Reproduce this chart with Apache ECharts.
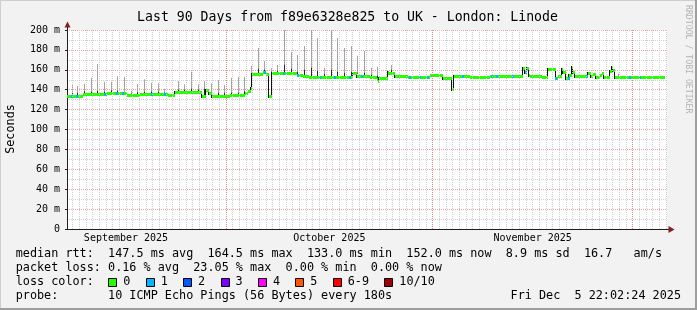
<!DOCTYPE html>
<html>
<head>
<meta charset="utf-8">
<script src="https://cdn.jsdelivr.net/npm/echarts@6.0.0/dist/echarts.min.js"></script>
<style>
html,body{margin:0;padding:0;background:#f2f2f2;overflow:hidden;}
#chart{width:697px;height:310px;}
</style>
</head>
<body>
<div id="chart"></div>
<script>
// ---------------- data (x = days since 1 Sep 2025 00:00, y = milliseconds) ----------------
const titleText = 'Last 90 Days from f89e6328e825 to UK - London: Linode';
const yAxisName = 'Seconds';
const xMinDay = 6.15, xMaxDay = 96.15;
const monthStartDays = [30, 61, 91];
const monthLabelDays = [15, 45.5, 76];
const monthLabels = ['September 2025', 'October 2025', 'November 2025'];
const yTickValues = [0, 20, 40, 60, 80, 100, 120, 140, 160, 180, 200];
const yTickLabels = ['0', '20 m', '40 m', '60 m', '80 m', '100 m', '120 m', '140 m', '160 m', '180 m', '200 m'];

// median rtt (step line)
const medianT = [6.15, 8.55, 10.35, 12.15, 12.90, 15.15, 17.10, 20.10, 21.30, 22.35, 26.40, 26.96, 27.45, 27.86, 30.60, 32.85, 33.30, 33.75, 33.95, 35.55, 36.00, 36.45, 36.86, 39.60, 40.61, 41.60, 42.50, 49.10, 49.70, 51.60, 52.61, 52.80, 52.95, 54.26, 54.35, 55.35, 57.35, 57.86, 60.60, 62.60, 63.90, 64.25, 66.60, 69.60, 74.51, 74.85, 75.20, 75.50, 75.60, 77.36, 78.35, 79.43, 79.85, 80.36, 80.60, 81.00, 81.50, 81.86, 82.10, 82.35, 84.35, 84.75, 85.10, 85.50, 86.10, 86.45, 86.75, 87.60, 87.86, 88.10, 88.35, 95.85];
const medianMs = [134.0, 135.7, 135.3, 137.0, 136.3, 134.7, 135.7, 136.0, 134.7, 138.0, 133.7, 139.7, 136.3, 134.0, 134.7, 136.3, 138.7, 141.4, 155.8, 158.0, 155.8, 134.0, 156.4, 157.1, 154.8, 154.1, 152.6, 156.4, 153.8, 152.4, 150.8, 148.7, 152.1, 158.1, 156.4, 154.1, 152.4, 153.1, 154.4, 152.1, 140.4, 154.1, 152.4, 153.8, 161.5, 158.1, 161.5, 154.8, 154.1, 152.8, 160.5, 152.1, 154.1, 160.5, 158.1, 152.1, 154.8, 163.1, 158.1, 153.8, 157.1, 154.1, 155.8, 152.4, 154.8, 156.8, 152.4, 158.8, 163.1, 159.8, 153.1, 153.1];

// smoke (ping spread) spikes
const smokeT   = [6.90, 7.65, 8.70, 9.75, 10.65, 11.70, 12.75, 13.65, 14.70, 15.75, 16.65, 17.70, 18.75, 19.80, 20.70, 22.80, 23.70, 24.75, 25.80, 26.70, 27.75, 28.80, 29.70, 30.75, 31.80, 32.70, 33.75, 34.80, 35.70, 36.75, 37.65, 38.70, 39.75, 40.65, 41.70, 42.75, 43.65, 44.70, 45.75, 46.65, 47.70, 48.75, 49.65, 50.70, 51.75, 52.65, 54.75, 69.90, 88.80];
const smokeMid = [137.0, 137.0, 138.5, 138.0, 139.0, 138.0, 139.5, 139.0, 137.0, 136.0, 137.5, 138.0, 138.0, 138.0, 137.0, 140.0, 140.0, 141.0, 140.0, 141.0, 137.0, 137.0, 137.0, 137.0, 137.0, 138.5, 156.0, 161.0, 160.0, 158.0, 159.0, 165.0, 161.0, 158.0, 160.0, 162.0, 159.0, 156.0, 160.0, 158.0, 157.0, 158.0, 157.0, 157.0, 155.0, 154.0, 160.0, 155.0, 154.0];
const smokeHi  = [145.4, 143.7, 146.0, 152.0, 165.8, 148.0, 148.0, 153.6, 153.0, 139.0, 145.7, 150.4, 147.0, 146.4, 141.0, 148.7, 145.4, 158.0, 145.4, 148.7, 146.4, 149.7, 144.7, 152.0, 153.0, 153.0, 164.0, 182.0, 168.8, 161.5, 164.8, 200.0, 177.6, 174.9, 184.0, 200.0, 192.0, 162.0, 200.0, 192.0, 182.0, 184.0, 174.0, 179.0, 162.0, 163.0, 164.8, 155.5, 156.0];

// places where the median is drawn in the "1 lost" colour
const lossOneT = [6.90, 7.65, 11.85, 13.65, 14.55, 18.90, 20.85, 35.85, 38.70, 40.80, 44.10, 46.35, 48.60, 50.40, 57.60, 59.10, 60.30, 65.55, 69.90, 70.65, 73.05, 75.00, 79.50, 81.45, 84.15, 90.60, 92.10];

// legend texts
const statLines = [
  'median rtt:  147.5 ms avg  164.5 ms max  133.0 ms min  152.0 ms now  8.9 ms sd  16.7   am/s',
  'packet loss: 0.16 % avg  23.05 % max  0.00 % min  0.00 % now'
];
const lossTitle = 'loss color:';
const lossLabels = ['0', '1', '2', '3', '4', '5', '6-9', '10/10'];
const lossColors = ['#26ff00', '#00b8ff', '#0059ff', '#7e00ff', '#ff00ff', '#ff5500', '#ff0000', '#a10000'];
const probeText = 'probe:       10 ICMP Echo Pings (56 Bytes) every 180s';
const dateText = 'Fri Dec  5 22:02:24 2025';
const watermark = 'RRDTOOL / TOBI OETIKER';

// ---------------- build ----------------
const MONO = '"DejaVu Sans Mono", "Liberation Mono", monospace';
function medianAt(t) {
  let v = medianMs[0];
  for (let i = 0; i < medianT.length; i++) { if (medianT[i] <= t) v = medianMs[i]; }
  return v;
}
// each median step: [start, value, end, next value]
const medianSteps = medianT.slice(0, -1).map((t, i) => [t, medianMs[i], medianT[i + 1], medianMs[i + 1]]);
const smokeData = smokeT.map((t, i) => [t, medianAt(t), smokeMid[i], smokeHi[i]]);
const lossOneData = lossOneT.map(t => [t, medianAt(t)]);

const minorDays = [];
for (let d = Math.ceil(xMinDay); d <= Math.floor(xMaxDay); d++) minorDays.push({ xAxis: d });

const chart = echarts.init(document.getElementById('chart'), null, { renderer: 'canvas' });

const graphics = [];
// frame
graphics.push({ type: 'line', shape: { x1: 0, y1: 0.5, x2: 697, y2: 0.5 }, style: { stroke: '#cecece', lineWidth: 1 }, z: 50 });
graphics.push({ type: 'line', shape: { x1: 0.5, y1: 0, x2: 0.5, y2: 310 }, style: { stroke: '#cecece', lineWidth: 1 }, z: 50 });
graphics.push({ type: 'line', shape: { x1: 0, y1: 309, x2: 697, y2: 309 }, style: { stroke: '#9e9e9e', lineWidth: 2 }, z: 50 });
graphics.push({ type: 'line', shape: { x1: 696, y1: 0, x2: 696, y2: 310 }, style: { stroke: '#9e9e9e', lineWidth: 2 }, z: 50 });
// axis arrows
graphics.push({ type: 'line', shape: { x1: 67.5, y1: 30, x2: 67.5, y2: 26 }, style: { stroke: '#1f1f1f', lineWidth: 1 }, z: 60 });
graphics.push({ type: 'polygon', shape: { points: [[64.5, 27.5], [70.5, 27.5], [67.5, 21.5]] }, style: { fill: '#801f1f' }, z: 60 });
graphics.push({ type: 'line', shape: { x1: 667, y1: 229.5, x2: 669, y2: 229.5 }, style: { stroke: '#1f1f1f', lineWidth: 1 }, z: 60 });
graphics.push({ type: 'polygon', shape: { points: [[668.5, 226], [668.5, 233], [674.5, 229.5]] }, style: { fill: '#801f1f' }, z: 60 });
// title
graphics.push({ type: 'text', x: 347.5, y: 18, style: { text: titleText, align: 'center', verticalAlign: 'middle', font: '13.2px ' + MONO, fill: '#000' }, z: 60 });
// y axis name
graphics.push({ type: 'text', x: 10.5, y: 129, rotation: Math.PI / 2, style: { text: yAxisName, align: 'center', verticalAlign: 'middle', font: '11.8px ' + MONO, fill: '#000' }, z: 60 });
// watermark
graphics.push({ type: 'text', x: 688.5, y: 5, rotation: -Math.PI / 2, style: { text: watermark, align: 'left', verticalAlign: 'middle', font: '8.2px ' + MONO, fill: '#b4b4b4' }, z: 60 });
// stats lines
const rowY = [254.3, 268.3, 282.3, 296.3];
statLines.forEach((s, i) => {
  graphics.push({ type: 'text', x: 15.7, y: rowY[i], style: { text: s, align: 'left', verticalAlign: 'middle', font: '11.8px ' + MONO, fill: '#000' }, z: 60 });
});
graphics.push({ type: 'text', x: 15.7, y: rowY[2], style: { text: lossTitle, align: 'left', verticalAlign: 'middle', font: '11.8px ' + MONO, fill: '#000' }, z: 60 });
const CH = 7.1;
let bx = 108.3;
lossLabels.forEach((lab, i) => {
  graphics.push({ type: 'rect', shape: { x: Math.round(bx) + 0.5, y: 278.5, width: 8, height: 8 }, style: { fill: lossColors[i], stroke: '#000', lineWidth: 1 }, z: 60 });
  const lx = bx + 15;
  graphics.push({ type: 'text', x: lx, y: rowY[2], style: { text: lab, align: 'left', verticalAlign: 'middle', font: '11.8px ' + MONO, fill: '#000' }, z: 60 });
  bx = lx + lab.length * CH + 15.3;
});
graphics.push({ type: 'text', x: 15.7, y: rowY[3], style: { text: probeText, align: 'left', verticalAlign: 'middle', font: '11.8px ' + MONO, fill: '#000' }, z: 60 });
graphics.push({ type: 'text', x: 681, y: rowY[3], style: { text: dateText, align: 'right', verticalAlign: 'middle', font: '11.8px ' + MONO, fill: '#000' }, z: 60 });

const option = {
  animation: false,
  backgroundColor: '#f2f2f2',
  grid: { left: 67, top: 30, width: 600, height: 199, show: true, backgroundColor: '#ffffff', borderWidth: 0, containLabel: false, outerBoundsMode: 'none' },
  xAxis: {
    type: 'value', min: xMinDay, max: xMaxDay,
    axisLine: { show: true, onZero: false, lineStyle: { color: '#1f1f1f', width: 1 } },
    axisTick: { show: false },
    splitLine: { show: false },
    axisLabel: {
      show: true, customValues: monthLabelDays, margin: 4,
      formatter: v => { const i = monthLabelDays.indexOf(v); return i >= 0 ? monthLabels[i] : ''; },
      fontFamily: MONO, fontSize: 10, color: '#000'
    }
  },
  yAxis: {
    type: 'value', min: 0, max: 200, interval: 20,
    axisLine: { show: true, lineStyle: { color: '#1f1f1f', width: 1 } },
    axisTick: { show: true, length: 2, lineStyle: { color: '#1f1f1f' } },
    minorTick: { show: false, splitNumber: 2 },
    splitLine: { show: true, lineStyle: { color: 'rgba(222,79,79,0.55)', type: [1, 1], width: 1 } },
    minorSplitLine: { show: true, lineStyle: { color: '#cfcfcf', type: [1, 1], width: 1 } },
    axisLabel: {
      margin: 7, fontFamily: MONO, fontSize: 10, color: '#000',
      formatter: v => { const i = yTickValues.indexOf(v); return i >= 0 ? yTickLabels[i] : ''; }
    }
  },
  series: [
    {
      type: 'line', name: 'grid', data: [], silent: true, z: 1,
      markLine: {
        silent: true, symbol: ['none', 'none'], label: { show: false }, animation: false,
        lineStyle: { color: '#cfcfcf', type: [1, 1], width: 1 },
        data: minorDays
      }
    },
    {
      type: 'line', name: 'mgrid', data: [], silent: true, z: 1,
      markLine: {
        silent: true, symbol: ['none', 'none'], label: { show: false }, animation: false,
        lineStyle: { color: 'rgba(222,79,79,0.55)', type: [1, 1], width: 1 },
        data: monthStartDays.map(d => ({ xAxis: d }))
      }
    },
    {
      type: 'custom', name: 'smoke', data: smokeData, z: 2, clip: true, silent: true,
      encode: { x: 0, y: 3 },
      renderItem: (params, api) => {
        const t = api.value(0);
        const pLo = api.coord([t, api.value(1)]);
        const pMid = api.coord([t, api.value(2)]);
        const pHi = api.coord([t, api.value(3)]);
        const x = Math.floor(pLo[0]);
        return {
          type: 'group', children: [
            { type: 'rect', shape: { x: x, y: pHi[1], width: 1, height: pLo[1] - pHi[1] }, style: { fill: '#a4a4a4' } },
            { type: 'rect', shape: { x: x, y: pMid[1], width: 1, height: pLo[1] - pMid[1] }, style: { fill: '#2a2a2a' } }
          ]
        };
      }
    },
    {
      type: 'custom', name: 'median', data: medianSteps, z: 3, silent: true, clip: true,
      encode: { x: [0, 2], y: [1, 3] },
      renderItem: (params, api) => {
        const p0 = api.coord([api.value(0), api.value(1)]);
        const p1 = api.coord([api.value(2), api.value(1)]);
        const p2 = api.coord([api.value(2), api.value(3)]);
        const xa = Math.round(p0[0]), xb = Math.round(p1[0]);
        const ya = Math.round(p1[1]), yb = Math.round(p2[1]);
        const last = params.dataIndex === medianSteps.length - 1;
        const kids = [
          { type: 'rect', shape: { x: xa, y: ya - 1, width: Math.max(1, xb - xa), height: 3 }, style: { fill: '#26ff00' } }
        ];
        if (!last && Math.abs(yb - ya) > 2) {
          kids.unshift({ type: 'rect', shape: { x: xb - 1, y: Math.min(ya, yb) - 1, width: 1, height: Math.abs(yb - ya) + 3 }, style: { fill: '#111111' } });
        }
        return { type: 'group', children: kids };
      }
    },
    {
      type: 'custom', name: 'loss1', data: lossOneData, z: 4, silent: true,
      encode: { x: 0, y: 1 },
      renderItem: (params, api) => {
        const p = api.coord([api.value(0), api.value(1)]);
        return { type: 'rect', shape: { x: Math.round(p[0]) - 1, y: Math.round(p[1]) - 1, width: 2, height: 3 }, style: { fill: '#00b8ff' } };
      }
    }
  ],
  graphic: { elements: graphics }
};
chart.setOption(option);
</script>
</body>
</html>
